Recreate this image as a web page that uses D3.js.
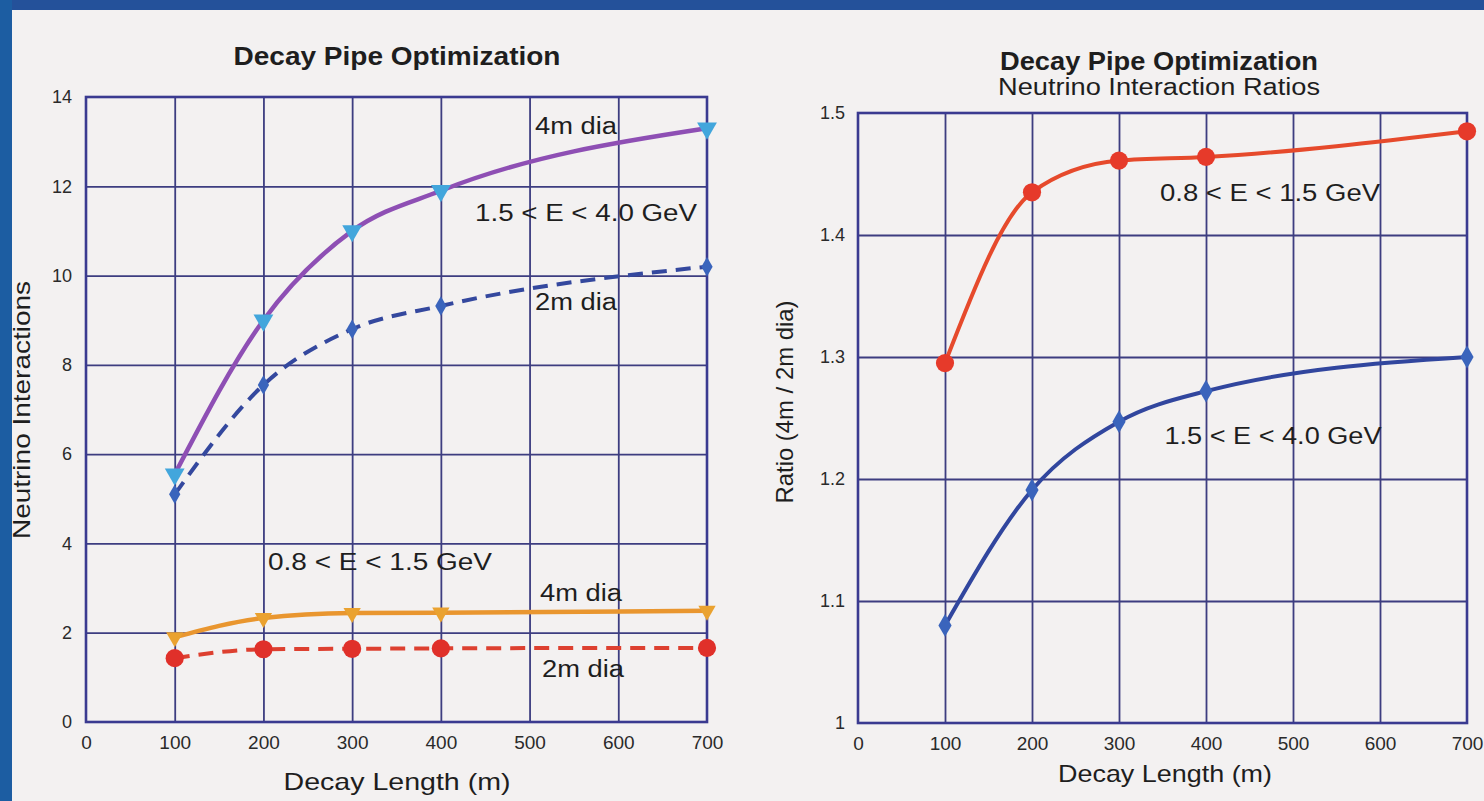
<!DOCTYPE html>
<html><head><meta charset="utf-8">
<script src="https://cdn.jsdelivr.net/npm/d3@7"></script>
<style>
html,body{margin:0;padding:0;background:#24519a;}
svg{display:block;}
text{font-family:"Liberation Sans",Arial,Helvetica,sans-serif;}
</style></head>
<body>
<svg id="c" width="1484" height="801"></svg>
<script>
// ---------- data ----------
const decayLengths = [100, 200, 300, 400, 700];
// left chart: neutrino interactions
const hiE4m = [5.55, 9.0, 11.0, 11.9, 13.3];   // 1.5<E<4.0 GeV, 4m dia
const hiE2m = [5.1, 7.55, 8.8, 9.32, 10.2];    // 1.5<E<4.0 GeV, 2m dia
const loE4m = [1.9, 2.33, 2.44, 2.45, 2.49];   // 0.8<E<1.5 GeV, 4m dia
const loE2m = [1.43, 1.63, 1.64, 1.65, 1.66];  // 0.8<E<1.5 GeV, 2m dia
// right chart: ratios 4m/2m
const ratioLoE = [1.295, 1.435, 1.461, 1.464, 1.485];
const ratioHiE = [1.08, 1.191, 1.247, 1.272, 1.30];
const xTicks = [0, 100, 200, 300, 400, 500, 600, 700];
const leftYTicks = [0, 2, 4, 6, 8, 10, 12, 14];
const rightYTicks = [1, 1.1, 1.2, 1.3, 1.4, 1.5];
const rightYTickLabels = ["1", "1.1", "1.2", "1.3", "1.4", "1.5"];

const svg = d3.select("#c");
// background panel
svg.append("rect").attr("x",0).attr("y",0).attr("width",1484).attr("height",801).attr("fill","#24519a");
svg.append("rect").attr("x",0).attr("y",0).attr("width",12).attr("height",801).attr("fill","#1c5da2");
svg.append("rect").attr("x",12).attr("y",10).attr("width",1472).attr("height",791).attr("fill","#f3f1f1");

const gridCol = "#3d3d80", frameCol = "#3a3a90";

function panel(cfg){
  const g = svg.append("g");
  const x = d3.scaleLinear().domain([0,700]).range([cfg.x0, cfg.x1]);
  const y = d3.scaleLinear().domain(cfg.yDom).range([cfg.y1, cfg.y0]);
  // grid
  const gx = d3.axisBottom(x).tickValues(xTicks.slice(1,-1)).tickSize(-(cfg.y1-cfg.y0)).tickFormat("");
  g.append("g").attr("transform",`translate(0,${cfg.y1})`).call(gx)
    .call(s=>{s.select(".domain").remove(); s.selectAll("line").attr("stroke",gridCol).attr("stroke-width",1.8);});
  const gy = d3.axisLeft(y).tickValues(cfg.yTicks.slice(1,-1)).tickSize(-(cfg.x1-cfg.x0)).tickFormat("");
  g.append("g").attr("transform",`translate(${cfg.x0},0)`).call(gy)
    .call(s=>{s.select(".domain").remove(); s.selectAll("line").attr("stroke",gridCol).attr("stroke-width",1.8);});
  // frame
  g.append("rect").attr("x",cfg.x0).attr("y",cfg.y0).attr("width",cfg.x1-cfg.x0).attr("height",cfg.y1-cfg.y0)
    .attr("fill","none").attr("stroke",frameCol).attr("stroke-width",2.6);
  // tick labels
  const ax = d3.axisBottom(x).tickValues(xTicks).tickSize(0).tickPadding(14).tickFormat(d3.format("d"));
  g.append("g").attr("transform",`translate(0,${cfg.y1})`).attr("font-size",19).call(ax)
    .call(s=>{s.select(".domain").remove(); s.attr("font-size",19); s.selectAll("text").attr("fill","#2a2a2a").attr("font-family","'Liberation Sans',Arial,sans-serif");});
  const ay = d3.axisLeft(y).tickValues(cfg.yTicks).tickSize(0).tickPadding(cfg.yPad).tickFormat((d,i)=>cfg.yLabels[i]);
  g.append("g").attr("transform",`translate(${cfg.x0},0)`).call(ay)
    .call(s=>{s.select(".domain").remove(); s.attr("font-size",18); s.selectAll("text").attr("fill","#2a2a2a").attr("font-family","'Liberation Sans',Arial,sans-serif");});
  return {g,x,y};
}

function series(p, vals, color, dash, width){
  const line = d3.line().x((d,i)=>p.x(decayLengths[i])).y(d=>p.y(d)).curve(d3.curveMonotoneX);
  p.g.append("path").datum(vals).attr("d",line).attr("fill","none").attr("stroke",color)
    .attr("stroke-width",width).attr("stroke-dasharray",dash||null).attr("stroke-linecap","butt");
}
function markers(p, vals, type, color, size){
  const sym = d3.symbol().type(type).size(size);
  p.g.selectAll(null).data(vals).enter().append("path")
    .attr("d", sym())
    .attr("transform",(d,i)=>`translate(${p.x(decayLengths[i])},${p.y(d)})${type===d3.symbolTriangle?" rotate(180)":""}`)
    .attr("fill",color);
}
function label(t, x, y, size, opts={}){
  const el = svg.append("text").attr("x",x).attr("y",y).attr("font-size",size).attr("fill",opts.fill||"#1e1e1e")
    .attr("text-anchor",opts.anchor||"middle").attr("font-weight",opts.bold?"bold":"normal").text(t);
  if(opts.len) el.attr("textLength",opts.len).attr("lengthAdjust","spacingAndGlyphs");
  if(opts.rot) el.attr("transform",`rotate(-90,${x},${y})`);
  return el;
}

// ---------- left chart ----------
const L = panel({x0:86, x1:707, y0:97, y1:722, yDom:[0,14], yTicks:leftYTicks, yLabels:leftYTicks.map(String), yPad:14});
series(L, hiE4m, "#8e4fb4", null, 4.5);
series(L, hiE2m, "#34489e", "15,9", 4);
series(L, loE4m, "#e9962f", null, 4.5);
series(L, loE2m, "#dd4030", "15,9", 4);
markers(L, hiE4m, d3.symbolTriangle, "#42a6dc", 170);
markers(L, hiE2m, d3.symbolDiamond, "#3a64bc", 110);
markers(L, loE4m, d3.symbolTriangle, "#eaa230", 130);
markers(L, loE2m, d3.symbolCircle, "#e0302a", 260);

// ---------- right chart ----------
const R = panel({x0:858, x1:1467, y0:113, y1:723, yDom:[1,1.5], yTicks:rightYTicks, yLabels:rightYTickLabels, yPad:13});
series(R, ratioLoE, "#e64a2c", null, 4);
series(R, ratioHiE, "#31469e", null, 4);
markers(R, ratioLoE, d3.symbolCircle, "#e63a2a", 260);
markers(R, ratioHiE, d3.symbolDiamond, "#3a64bc", 150);

// ---------- titles and labels ----------
label("Decay Pipe Optimization", 397, 65, 25, {bold:true, len:327});
label("Decay Pipe Optimization", 1159, 70, 25, {bold:true, len:318});
label("Neutrino Interaction Ratios", 1159, 95, 23, {len:322});
label("Decay Length (m)", 397, 790, 24, {len:227});
label("Decay Length (m)", 1165, 782, 24, {len:214});
label("Neutrino Interactions", 30, 410, 24, {rot:true, len:258});
label("Ratio (4m / 2m dia)", 793, 402, 24, {rot:true, len:203});

// curve annotations
label("4m dia", 576, 134, 23, {len:82});
label("1.5 < E < 4.0 GeV", 586, 221, 23, {len:222});
label("2m dia", 576, 310, 23, {len:82});
label("0.8 < E < 1.5 GeV", 380, 570, 23, {len:224});
label("4m dia", 581, 601, 23, {len:82});
label("2m dia", 583, 677, 23, {len:82});
label("0.8 < E < 1.5 GeV", 1270, 201, 23, {len:220});
label("1.5 < E < 4.0 GeV", 1273, 444, 23, {len:217});
</script>
</body></html>
